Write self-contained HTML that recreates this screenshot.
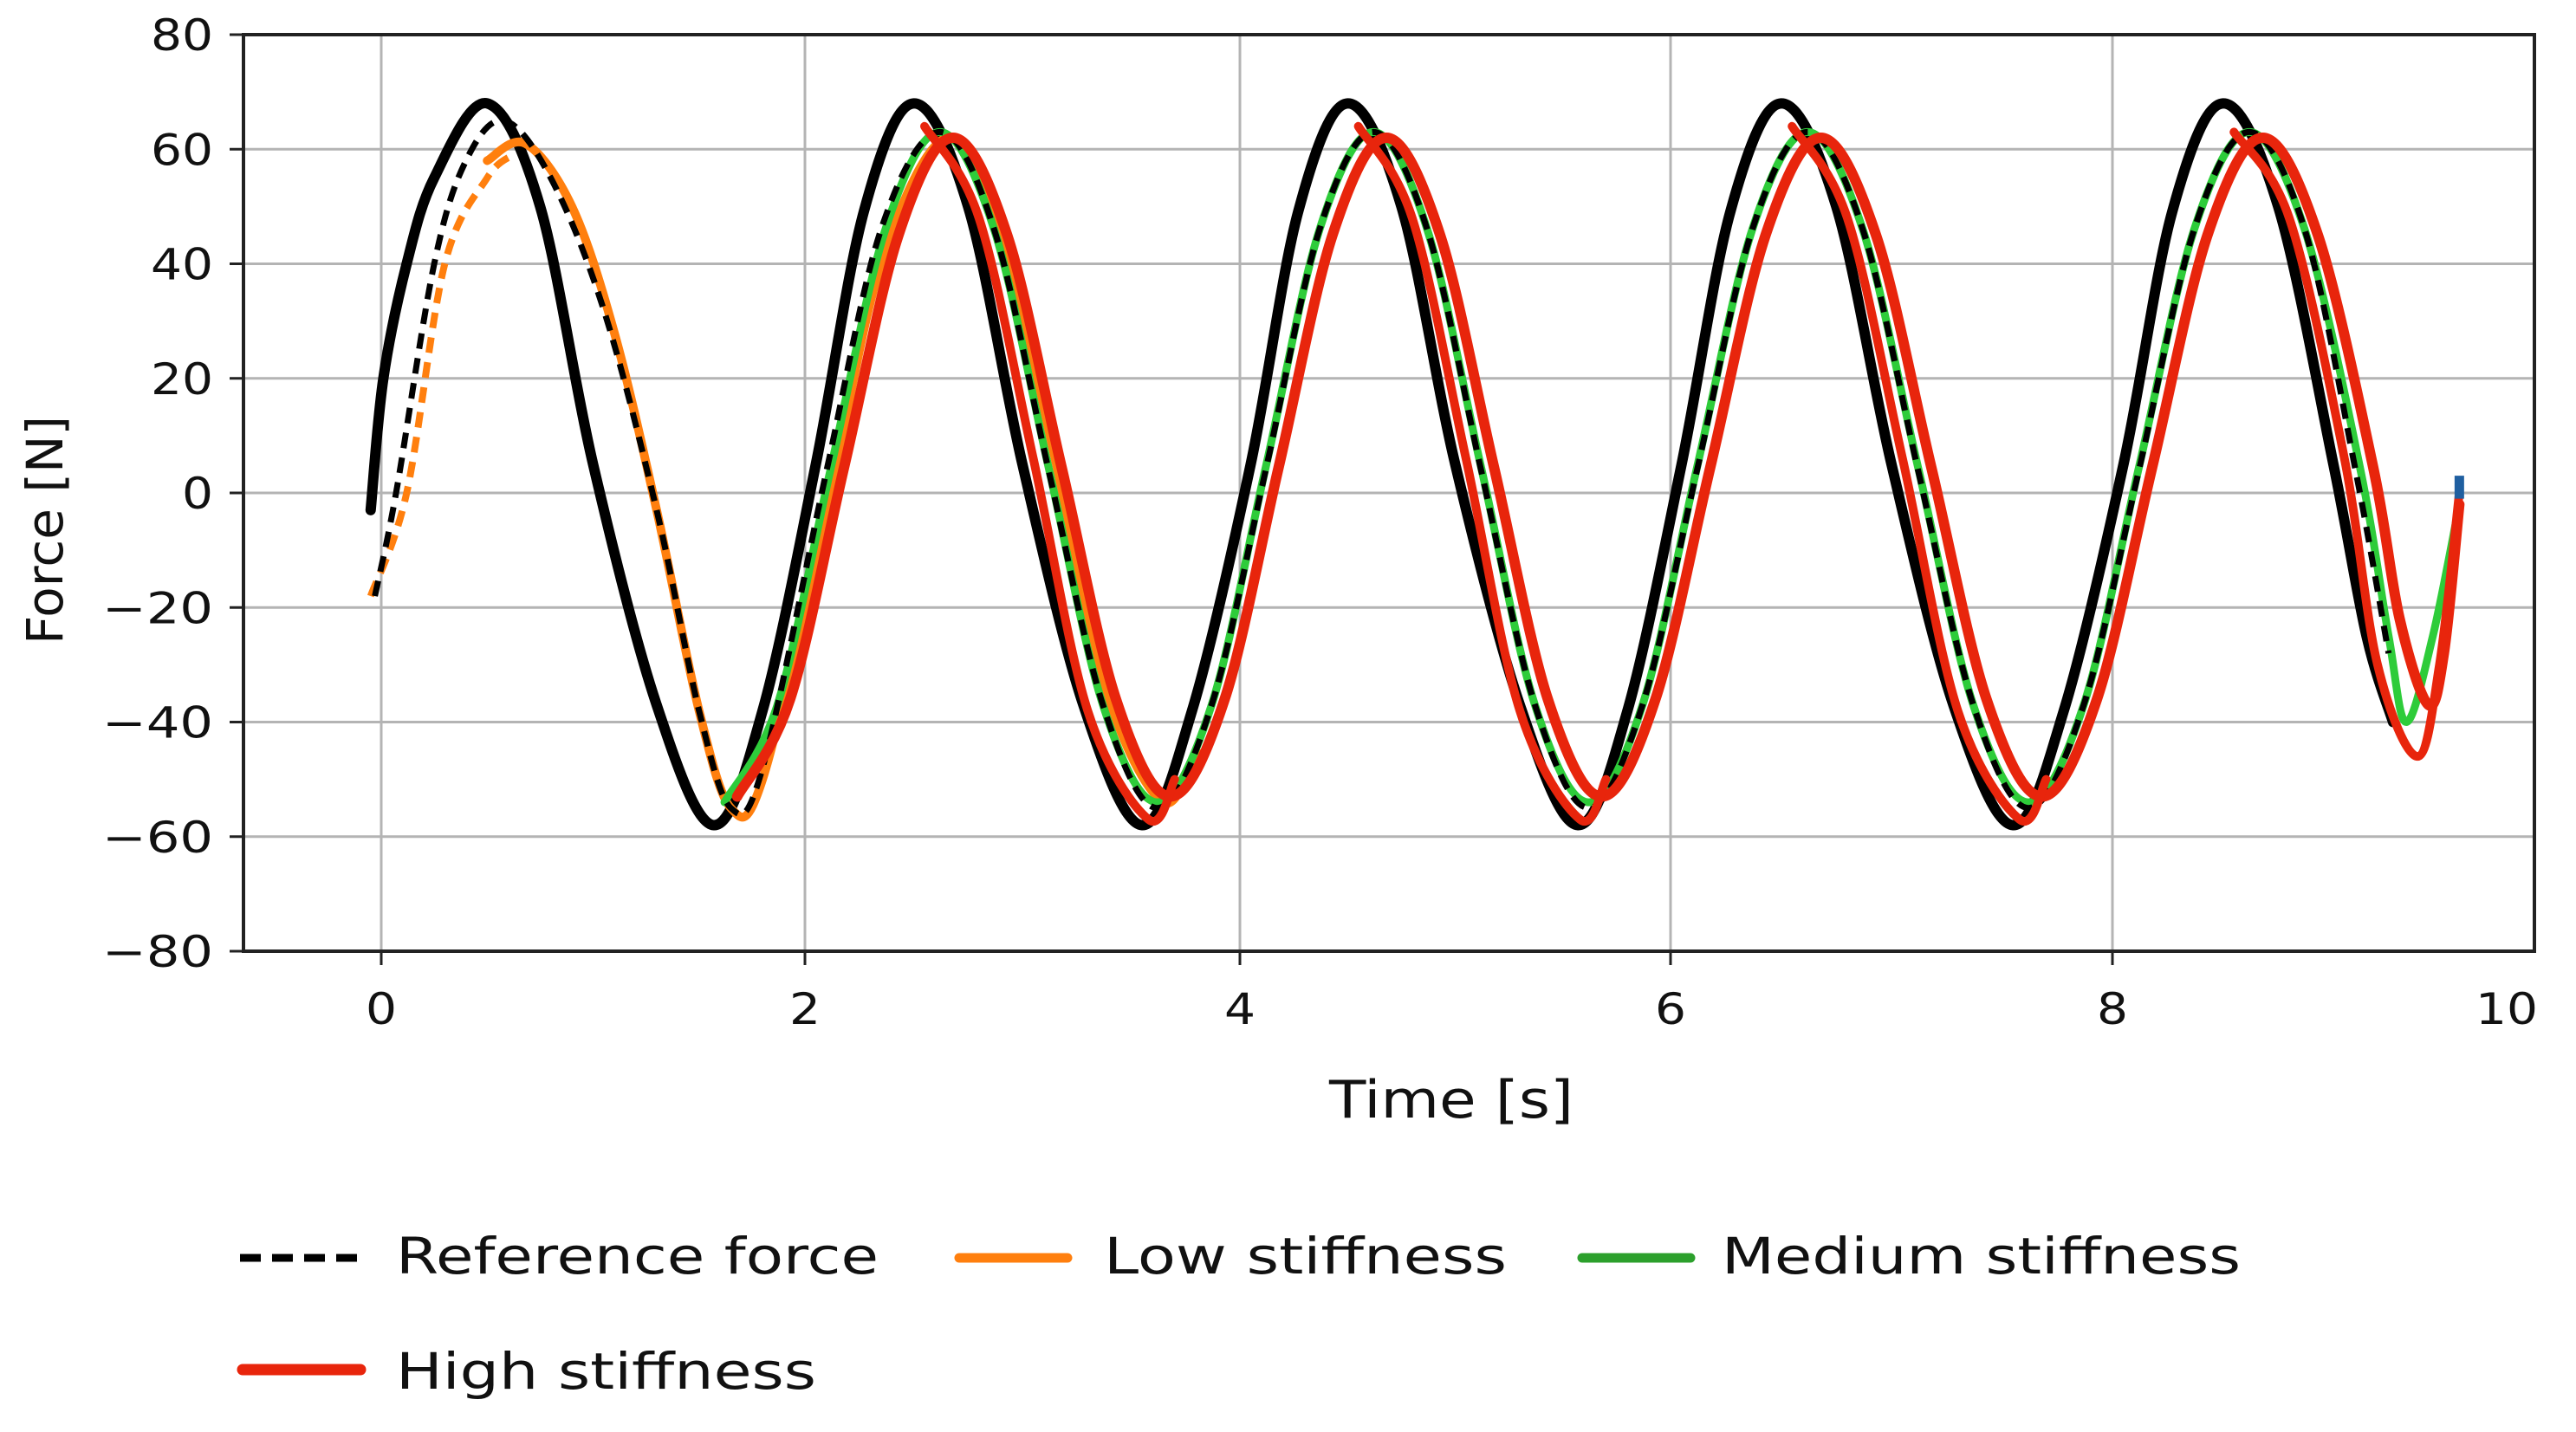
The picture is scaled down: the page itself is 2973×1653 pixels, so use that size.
<!DOCTYPE html>
<html><head><meta charset="utf-8"><style>
html,body{margin:0;padding:0;background:#fff;}
svg{display:block;}
text{font-family:"DejaVu Sans","Liberation Sans",sans-serif;fill:#111;}
</style></head><body>
<svg id="chart" width="2973" height="1653" viewBox="0 0 2973 1653" xmlns="http://www.w3.org/2000/svg">
<rect width="2973" height="1653" fill="#fff"/>
<g id="grid"></g>
<g id="series"></g>
<g id="axes"></g>
<text x="1675" y="1290" font-size="60" text-anchor="middle" class="st" data-w="282">Time [s]</text>
<text transform="translate(72,612) rotate(-90)" font-size="58" text-anchor="middle">Force [N]</text>
<g>
  <line x1="277" y1="1452" x2="419" y2="1452" stroke="#000" stroke-width="9" stroke-dasharray="24,13"/>
  <text x="457" y="1470" font-size="58" class="st" data-w="557">Reference force</text>
  <line x1="1107" y1="1452" x2="1232" y2="1452" stroke="#ff7f0e" stroke-width="11" stroke-linecap="round"/>
  <text x="1274" y="1470" font-size="58" class="st" data-w="465">Low stiffness</text>
  <line x1="1826" y1="1452" x2="1951" y2="1452" stroke="#2ca02c" stroke-width="11" stroke-linecap="round"/>
  <text x="1987" y="1470" font-size="58" class="st" data-w="599">Medium stiffness</text>
  <line x1="280" y1="1581" x2="416" y2="1581" stroke="#e8250c" stroke-width="13" stroke-linecap="round"/>
  <text x="457" y="1603" font-size="58" class="st" data-w="485">High stiffness</text>
</g>
</svg>
<script>
const xTicks=[0,2,4,6,8,10];
const yTicks=[80,60,40,20,0,-20,-40,-60,-80];
const blackT=[-0.05,0.01,0.12,0.25,0.5,0.75,1.0,1.3,1.57,1.8,2.05,2.27,2.5,2.75,3.0,3.28,3.55,3.78,4.05,4.27,4.5,4.75,5.0,5.3,5.57,5.8,6.05,6.27,6.5,6.75,7.0,7.28,7.55,7.78,8.05,8.27,8.5,8.75,9.0,9.15,9.27];
const blackV=[-3,20,40,55,68,50,5,-37,-58,-38,5,49,68,50,5,-37,-58,-38,5,49,68,50,5,-37,-58,-38,5,49,68,50,5,-37,-58,-38,5,49,68,50,5,-25,-40];
const refT=[-0.03,0.07,0.25,0.4,0.58,0.8,1.05,1.3,1.5,1.65,1.8,2.1,2.35,2.62,2.87,3.12,3.37,3.62,3.87,4.12,4.37,4.62,4.87,5.12,5.37,5.62,5.87,6.12,6.37,6.62,6.87,7.12,7.37,7.62,7.87,8.12,8.37,8.62,8.87,9.1,9.25];
const refV=[-18,0,40,58,65,55,32,-3,-38,-55,-48,4,46,63,46,4,-37,-55,-37,4,46,63,46,4,-37,-55,-37,4,46,63,46,4,-37,-55,-37,4,46,63,46,4,-28];
const lowDashT=[-0.05,0.12,0.3,0.5,0.62];
const lowDashV=[-18,0,40,55,59];
const lowT=[0.5,0.68,0.9,1.1,1.3,1.5,1.65,1.8,2.1,2.35,2.65,2.9,3.15,3.4,3.65,3.8];
const lowV=[58,61,50,28,-3,-38,-55,-50,-3,40,62,47,6,-36,-54,-45];
const medT=[1.62,1.87,2.12,2.37,2.62,2.87,3.12,3.37,3.62,3.87,4.12,4.37,4.62,4.87,5.12,5.37,5.62,5.87,6.12,6.37,6.62,6.87,7.12,7.37,7.62,7.87,8.12,8.37,8.62,8.87,9.12,9.25,9.33,9.45,9.57];
const medV=[-54,-37,4.5,46,63,46,4.5,-37,-54,-37,4.5,46,63,46,4.5,-37,-54,-37,4.5,46,63,46,4.5,-37,-54,-37,4.5,46,63,46,4.5,-25,-40,-25,-2];
const highT=[1.68,1.93,2.18,2.43,2.68,2.93,3.18,3.43,3.68,3.93,4.18,4.43,4.68,4.93,5.18,5.43,5.68,5.93,6.18,6.43,6.68,6.93,7.18,7.43,7.68,7.93,8.18,8.43,8.68,8.93,9.18,9.3,9.43,9.5,9.57];
const highV=[-53,-36,4.5,45,62,45,4.5,-36,-53,-36,4.5,45,62,45,4.5,-36,-53,-36,4.5,45,62,45,4.5,-36,-53,-36,4.5,45,62,45,4.5,-22,-37,-28,-2];
const highAT=[[2.55,2.8,3.05,3.3,3.58,3.7],[4.55,4.8,5.05,5.3,5.58,5.7],[6.55,6.8,7.05,7.3,7.58,7.7],[8.55,8.8,9.05,9.2,9.38,9.48,9.57]];
const highAV=[[64,48,6,-38,-57,-50],[64,48,6,-38,-57,-50],[64,48,6,-38,-57,-50],[63,48,6,-30,-46,-30,0]];

const NS='http://www.w3.org/2000/svg';
const tickPx=[440,929,1431,1928,2438];
function X(t){
  if(t<=0) return tickPx[0]+t*(tickPx[1]-tickPx[0])/2;
  if(t>=8) return tickPx[4]+(t-8)*(tickPx[4]-tickPx[3])/2;
  const i=Math.floor(t/2);return tickPx[i]+(t-2*i)*(tickPx[i+1]-tickPx[i])/2;
}
function Y(v){return 569-v*6.6125;}
const L=281,R=2925,T=40,B=1098;
function mk(tag,attrs,parent){const e=document.createElementNS(NS,tag);for(const k in attrs)e.setAttribute(k,attrs[k]);parent.appendChild(e);return e;}
const grid=document.getElementById('grid'),axes=document.getElementById('axes'),ser=document.getElementById('series');
xTicks.forEach(t=>{
  const x=X(t);
  if(x<R){
    const g=mk('line',{x1:x,y1:T,x2:x,y2:B,stroke:'#b4b4b4','stroke-width':3},grid);
    
    
    const tk=mk('line',{x1:x,y1:B,x2:x,y2:B+16,stroke:'#222','stroke-width':3},axes);
    
    
  }
  const lx=t===10?2893:x;
  const tx=mk('text',{x:lx,y:1182,'font-size':50,'text-anchor':'middle',class:'st','data-w':String(t).length*36},axes);
  
  
  tx.textContent=t;
});
yTicks.forEach(v=>{
  const y=Y(v);
  const g=mk('line',{x1:L,y1:y,x2:R,y2:y,stroke:'#b4b4b4','stroke-width':3},grid);
  
  
  const tk=mk('line',{x1:L-16,y1:y,x2:L,y2:y,stroke:'#222','stroke-width':3},axes);
  
  
  const s=v<0?'\u2212'+(-v):String(v);
  const w=(v<0?56:0)+String(Math.abs(v)).length*36;
  const tx=mk('text',{x:246,y:y+18,'font-size':50,'text-anchor':'end',class:'st','data-w':w},axes);
  
  
  tx.textContent=s;
});
const frame=mk('rect',{x:L,y:T,width:R-L,height:B-T,fill:'none',stroke:'#222','stroke-width':4},axes);



function pathD(ts,vs){
  const p=ts.map((t,i)=>[X(t),Y(vs[i])]);
  let d='M'+p[0][0]+','+p[0][1];
  for(let i=0;i<p.length-1;i++){
    const p0=p[i-1]||p[i],p1=p[i],p2=p[i+1],p3=p[i+2]||p[i+1];
    const c1=[p1[0]+(p2[0]-p0[0])/6,p1[1]+(p2[1]-p0[1])/6];
    const c2=[p2[0]-(p3[0]-p1[0])/6,p2[1]-(p3[1]-p1[1])/6];
    d+='C'+c1[0]+','+c1[1]+' '+c2[0]+','+c2[1]+' '+p2[0]+','+p2[1];
  }
  return d;
}
function line(ts,vs,color,w,name,dash){
  const a={d:pathD(ts,vs),fill:'none',stroke:color,'stroke-width':w,'stroke-linejoin':'round','stroke-linecap':dash?'butt':'round'};
  if(dash)a['stroke-dasharray']=dash;
  const e=mk('path',a,ser);
  
  
}
line(blackT,blackV,'#000',12,'black-solid-line');
line(lowDashT,lowDashV,'#ff7f0e',8,'low-stiffness-start-line','18,11');
line(lowT,lowV,'#ff7f0e',10,'low-stiffness-line');
line(medT,medV,'#2ecc3a',9,'medium-stiffness-line');
line(refT,refV,'#000',7,'reference-force-line','18,11');
line(highT,highV,'#e8250c',12,'high-stiffness-line');
highAT.forEach((ts,i)=>line(ts,highAV[i],'#e8250c',10,'high-stiffness-trial-line'));
const cap=mk('line',{x1:X(9.57),y1:Y(3),x2:X(9.57),y2:Y(-1),stroke:'#1f5fa0','stroke-width':11},ser);



document.querySelectorAll('text.st').forEach(t=>{
  t.setAttribute('textLength',t.getAttribute('data-w'));
  t.setAttribute('lengthAdjust','spacingAndGlyphs');
});
</script>
</body></html>
